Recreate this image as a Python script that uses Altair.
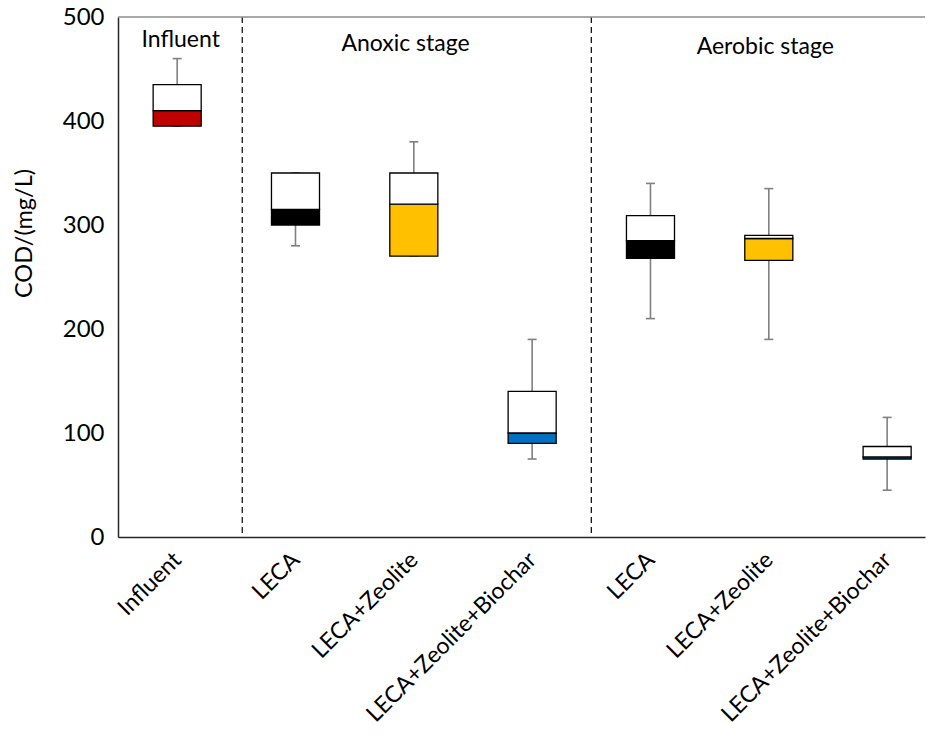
import altair as alt
import pandas as pd

# ---- data ----
categories = ["Influent", "LECA", "LECA+Zeolite", "LECA+Zeolite+Biochar",
              "LECA", "LECA+Zeolite", "LECA+Zeolite+Biochar"]
fill_colors = ["#c00000", "#000000", "#ffc000", "#0070c0",
               "#000000", "#ffc000", "#0070c0"]
mins = [395, 280, 270, 75, 210, 190, 45]
q1s = [395, 300, 270, 90, 268, 266, 75]
medians = [410, 315, 320, 100, 285, 287, 77]
q3s = [435, 350, 350, 140, 309, 290, 87]
maxs = [460, 350, 380, 190, 340, 335, 115]

stage_labels = ["Influent", "Anoxic stage", "Aerobic stage"]
stage_x = [1.03, 2.93, 5.97]
stage_y = [478, 474, 471]
separators = [1.55, 4.5]

df = pd.DataFrame({
    "idx": list(range(1, len(categories) + 1)),
    "cat": categories,
    "lo": mins, "q1": q1s, "med": medians, "q3": q3s, "hi": maxs,
    "fillc": fill_colors,
})
sep_df = pd.DataFrame({"sep": separators})
stage_df = pd.DataFrame({"label": stage_labels, "sx": stage_x, "sy": stage_y})
top_df = pd.DataFrame({"top": [500]})

FONT = "Lato"
HALF_BOX = 0.203
HALF_CAP = 0.038
GREY = "#808080"

label_expr = "[" + ",".join("'%s'" % c for c in categories) + "][datum.value - 1]"

xscale = alt.Scale(domain=[0.5, 7.32], nice=False, zero=False)
yscale = alt.Scale(domain=[0, 500], nice=False)

x_axis = alt.Axis(values=list(range(1, len(categories) + 1)), labelExpr=label_expr,
                  labelAngle=-45, labelAlign="right", labelBaseline="middle",
                  labelFontSize=23, labelFont=FONT, labelColor="black",
                  labelOverlap=False, labelLimit=600,
                  ticks=False, grid=False, domainColor="#262626", domainWidth=1.5,
                  labelPadding=19, title=None)
y_axis = alt.Axis(values=[0, 100, 200, 300, 400, 500], labelFontSize=24, labelFont=FONT,
                  labelColor="black", ticks=False, grid=False, domainColor="#262626",
                  domainWidth=1.5, labelPadding=14, title="COD/(mg/L)",
                  titleFont=FONT, titleFontSize=23.5, titleFontWeight="normal",
                  titleColor="black", titleX=-94, titleY=216, titleAngle=-90,
                  titleAlign="center", titleBaseline="middle")

base = alt.Chart(df).transform_calculate(
    bl="datum.idx - %f" % HALF_BOX, br="datum.idx + %f" % HALF_BOX,
    cl="datum.idx - %f" % HALF_CAP, cr="datum.idx + %f" % HALF_CAP,
)

whisk_lo = base.mark_rule(color=GREY, strokeWidth=1.6).encode(
    x=alt.X("idx:Q", scale=xscale, axis=x_axis),
    y=alt.Y("lo:Q", scale=yscale, axis=y_axis), y2="q1:Q")
whisk_hi = base.mark_rule(color=GREY, strokeWidth=1.6).encode(
    x="idx:Q", y="q3:Q", y2="hi:Q")
cap_lo = base.mark_rule(color=GREY, strokeWidth=1.6).encode(
    x="cl:Q", x2="cr:Q", y="lo:Q")
cap_hi = base.mark_rule(color=GREY, strokeWidth=1.6).encode(
    x="cl:Q", x2="cr:Q", y="hi:Q")
box_lo = base.mark_rect(stroke="black", strokeWidth=1.3).encode(
    x="bl:Q", x2="br:Q", y="q1:Q", y2="med:Q",
    fill=alt.Fill("fillc:N", scale=None))
box_hi = base.mark_rect(stroke="black", strokeWidth=1.3, fill="white").encode(
    x="bl:Q", x2="br:Q", y="med:Q", y2="q3:Q")

seps = alt.Chart(sep_df).mark_rule(color="black", strokeWidth=1.2,
                                   strokeDash=[6, 4]).encode(x="sep:Q")
top_line = alt.Chart(top_df).mark_rule(color="#8c8c8c", strokeWidth=1.5).encode(y="top:Q")
stages = alt.Chart(stage_df).mark_text(font=FONT, fontSize=23, color="black",
                                       align="center", baseline="middle").encode(
    x="sx:Q", y="sy:Q", text="label:N")

chart = alt.layer(whisk_lo, whisk_hi, cap_lo, cap_hi, box_lo, box_hi,
                  seps, top_line, stages).properties(
    width=807, height=520,
    autosize=alt.AutoSizeParams(type="none"),
    padding={"left": 110, "top": 9, "right": 1, "bottom": 195},
    background="white",
).configure_view(stroke=None)

chart.save("out.html", embed_options={"renderer": "svg", "actions": False})
